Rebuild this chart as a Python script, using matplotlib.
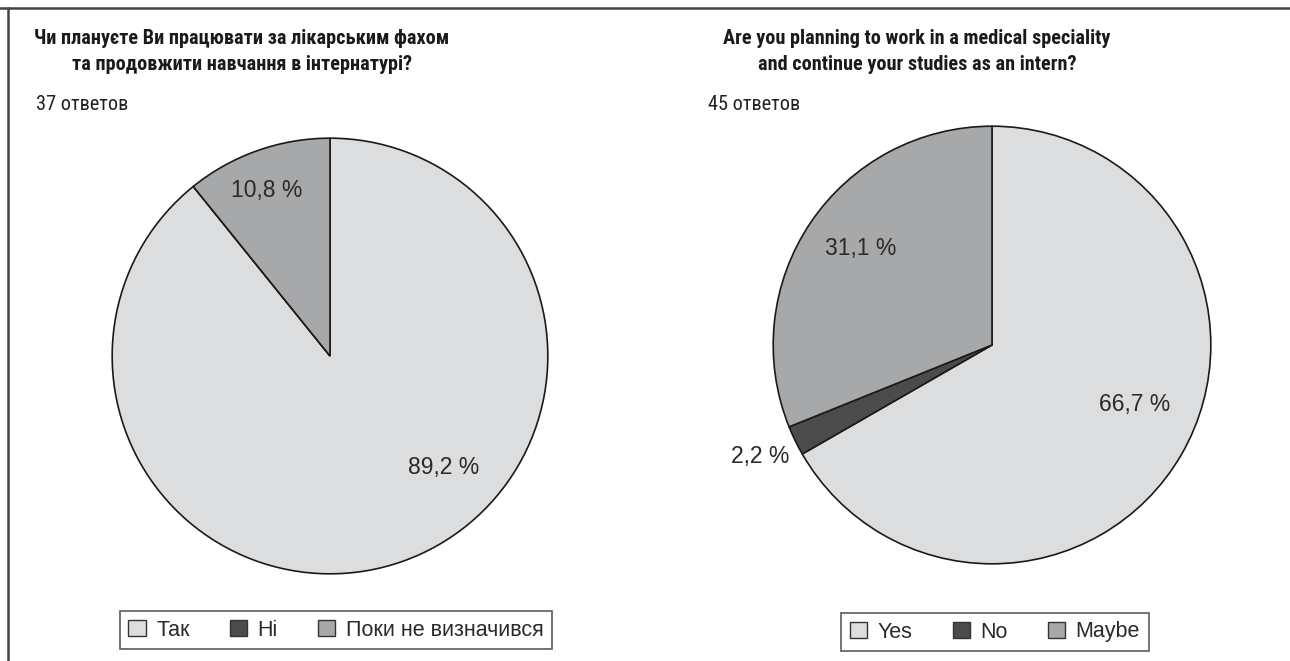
import matplotlib.pyplot as plt
from matplotlib.lines import Line2D
from matplotlib.patches import Patch

# data
labels_ua = ['Так', 'Ні', 'Поки не визначився']
values_ua = [89.2, 0.0, 10.8]
labels_en = ['Yes', 'No', 'Maybe']
values_en = [66.7, 2.2, 31.1]
colors = ['#dcdddf', '#4a4b4d', '#a7a8aa']

title_ua = 'Чи плануєте Ви працювати за лікарським фахом\nта продовжити навчання в інтернатурі?'
title_en = 'Are you planning to work in a medical speciality\nand continue your studies as an intern?'
count_ua = '37 ответов'
count_en = '45 ответов'

W, H = 1290, 661
NARROW = ['Roboto Condensed', 'Roboto', 'DejaVu Sans']
REG = ['Liberation Sans', 'DejaVu Sans']

fig = plt.figure(figsize=(W / 100, H / 100), dpi=100)
fig.patch.set_facecolor('white')


def px_axes(cx, cy, r):
    return fig.add_axes([(cx - r) / W, 1 - (cy + r) / H, 2 * r / W, 2 * r / H])


def draw_pie(ax, values, label_pos):
    wedges, _ = ax.pie([v if v > 0 else 1e-9 for v in values], colors=colors,
                       startangle=90, counterclock=False, radius=1,
                       wedgeprops=dict(edgecolor='#1a1a1a', linewidth=1.2))
    for v, pos in zip(values, label_pos):
        if v <= 0:
            continue
        ax.text(pos[0], pos[1], f'{v:.1f} %'.replace('.', ','), ha='center',
                va='center', fontsize=16.5, family=REG, color='#2a2a2a')
    ax.set_xlim(-1.01, 1.01)
    ax.set_ylim(-1.01, 1.01)
    ax.set_aspect('auto')
    ax.axis('off')
    return wedges


ax1 = px_axes(330, 356, 220)
draw_pie(ax1, values_ua, [(0.52, -0.51), None, (-0.29, 0.76)])
ax2 = px_axes(992, 345, 221)
draw_pie(ax2, values_en, [(0.65, -0.27), (-1.06, -0.51), (-0.60, 0.44)])

# titles and counts
fig.text(242 / W, 1 - 51.5 / H, title_ua, ha='center', va='center', fontsize=14.6,
         fontweight='bold', family=NARROW, linespacing=1.5, color='#1a1a1a')
fig.text(917 / W, 1 - 51.5 / H, title_en, ha='center', va='center', fontsize=14.6,
         fontweight='bold', family=NARROW, linespacing=1.5, color='#1a1a1a')
fig.text(36 / W, 1 - 104 / H, count_ua, ha='left', va='center', fontsize=14.6,
         family=NARROW, color='#222222')
fig.text(708 / W, 1 - 104 / H, count_en, ha='left', va='center', fontsize=14.6,
         family=NARROW, color='#222222')

# legends
for labels, cx, cy in [(labels_ua, 336, 630), (labels_en, 995, 632)]:
    handles = [Patch(facecolor=c, edgecolor='#333333', linewidth=1) for c in colors]
    leg = fig.legend(handles, labels, loc='center', ncol=3,
                     bbox_to_anchor=(cx / W, 1 - cy / H), frameon=True,
                     fancybox=False, edgecolor='#333333',
                     prop=dict(family=REG, size=15.5), handlelength=0.8,
                     handleheight=0.8, handletextpad=0.5, columnspacing=1.85,
                     borderpad=0.4)
    leg.get_frame().set_linewidth(1.2)
    for t in leg.get_texts():
        t.set_color('#2a2a2a')

# outer border lines (top and left)
fig.add_artist(Line2D([0, 1], [1 - 8 / H, 1 - 8 / H], transform=fig.transFigure,
                      color='#444444', linewidth=1.8))
fig.add_artist(Line2D([8 / W, 8 / W], [0, 1 - 8 / H], transform=fig.transFigure,
                      color='#444444', linewidth=1.8))

fig.savefig('out.png', dpi=100)
